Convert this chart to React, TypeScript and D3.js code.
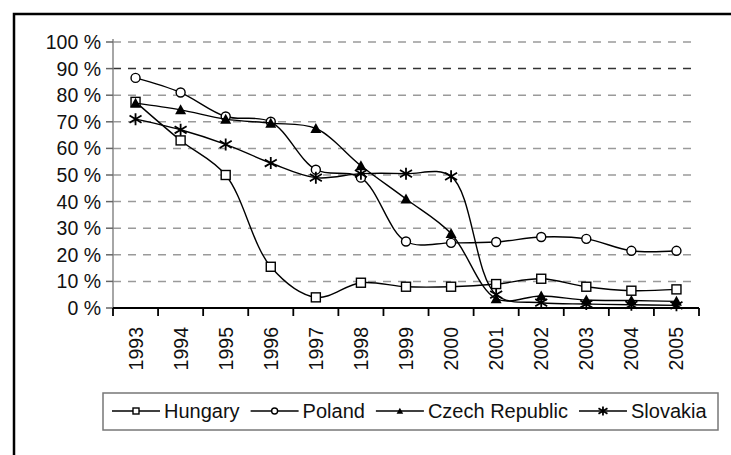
import React, { useEffect, useRef } from "react";
import * as d3 from "d3";

const years = ["1993", "1994", "1995", "1996", "1997", "1998", "1999", "2000", "2001", "2002", "2003", "2004", "2005"];
const hungary = [77.5, 63, 50, 15.5, 4, 9.5, 8, 8, 9, 11, 8, 6.5, 7];
const poland = [86.5, 81, 72, 70, 52, 49, 25, 24.5, 24.8, 26.7, 26, 21.5, 21.5];
const czech = [77, 74.5, 71, 69.5, 67.5, 53.5, 41, 28, 3.5, 4.5, 3, 2.8, 2.5];
const slovakia = [71, 67, 61.5, 54.5, 49, 50.5, 50.5, 49.5, 5, 2, 1.5, 1.2, 1];
const yTicks = [0, 10, 20, 30, 40, 50, 60, 70, 80, 90, 100];

const seriesNames = ["Hungary", "Poland", "Czech Republic", "Slovakia"];
const seriesValues = [hungary, poland, czech, slovakia];
const markerTypes = ["square", "circle", "triangle", "star"];

const App = () => {
  const svgRef = useRef<SVGSVGElement>(null);

  useEffect(() => {
    const svg = d3.select(svgRef.current);
    svg.selectAll("*").remove();

    const left = 113;
    const right = 699;
    const top = 42;
    const bottom = 308;
    const font = "'Liberation Sans', Arial, sans-serif";

    const x = d3.scaleBand().domain(years).range([left, right]);
    const y = d3.scaleLinear().domain([0, 100]).range([bottom, top]);
    const cx = (i) => x(years[i]) + x.bandwidth() / 2;

    // outer frame (cropped on right/bottom)
    svg
      .append("rect")
      .attr("x", 14)
      .attr("y", 14)
      .attr("width", 900)
      .attr("height", 600)
      .attr("fill", "none")
      .attr("stroke", "#000")
      .attr("stroke-width", 2.5);

    // gridlines
    svg
      .append("g")
      .selectAll("line")
      .data(yTicks.filter((d) => d > 0))
      .join("line")
      .attr("x1", left)
      .attr("x2", 697)
      .attr("y1", (d) => y(d))
      .attr("y2", (d) => y(d))
      .attr("stroke", (d) => (d === 90 ? "#333" : "#9a9a9a"))
      .attr("stroke-width", 1.5)
      .attr("stroke-dasharray", "8,7");

    // y axis
    svg
      .append("line")
      .attr("x1", left)
      .attr("x2", left)
      .attr("y1", top - 3)
      .attr("y2", bottom)
      .attr("stroke", "#888")
      .attr("stroke-width", 1.5);
    const yAxis = svg.append("g");
    yAxis
      .selectAll("line")
      .data(yTicks)
      .join("line")
      .attr("x1", left - 7)
      .attr("x2", left)
      .attr("y1", (d) => y(d))
      .attr("y2", (d) => y(d))
      .attr("stroke", "#666")
      .attr("stroke-width", 1.5);
    yAxis
      .selectAll("text")
      .data(yTicks)
      .join("text")
      .attr("x", 101)
      .attr("y", (d) => y(d))
      .attr("dy", "0.36em")
      .attr("text-anchor", "end")
      .attr("font-family", font)
      .attr("font-size", 19.5)
      .attr("fill", "#111")
      .text((d) => `${d} %`);

    // x axis
    svg
      .append("line")
      .attr("x1", left)
      .attr("x2", right)
      .attr("y1", bottom)
      .attr("y2", bottom)
      .attr("stroke", "#000")
      .attr("stroke-width", 2);
    const xAxis = svg.append("g");
    xAxis
      .selectAll("line")
      .data([...years.map((d) => x(d)), right])
      .join("line")
      .attr("x1", (d) => d)
      .attr("x2", (d) => d)
      .attr("y1", bottom)
      .attr("y2", bottom + 8)
      .attr("stroke", "#000")
      .attr("stroke-width", 1.8);
    xAxis
      .selectAll("text")
      .data(years)
      .join("text")
      .attr("transform", (d) => `translate(${x(d) + x.bandwidth() / 2},327) rotate(-90)`)
      .attr("dy", "0.36em")
      .attr("text-anchor", "end")
      .attr("font-family", font)
      .attr("font-size", 19.5)
      .attr("fill", "#111")
      .text((d) => d);

    const drawMarker = (g, type, px, py, s) => {
      if (type === "square") {
        g.append("rect")
          .attr("x", px - s / 2)
          .attr("y", py - s / 2)
          .attr("width", s)
          .attr("height", s)
          .attr("fill", "#fff")
          .attr("stroke", "#000")
          .attr("stroke-width", 1.4);
      } else if (type === "circle") {
        g.append("circle")
          .attr("cx", px)
          .attr("cy", py)
          .attr("r", s / 2)
          .attr("fill", "#fff")
          .attr("stroke", "#000")
          .attr("stroke-width", 1.4);
      } else if (type === "triangle") {
        g.append("path")
          .attr("d", `M${px},${py - s * 0.55}L${px + s * 0.55},${py + s * 0.45}L${px - s * 0.55},${py + s * 0.45}Z`)
          .attr("fill", "#000");
      } else {
        const r = s / 2;
        g.append("path")
          .attr(
            "d",
            `M${px},${py - r}L${px},${py + r}M${px - r},${py - r * 0.6}L${px + r},${py + r * 0.6}M${px - r},${py + r * 0.6}L${px + r},${py - r * 0.6}`
          )
          .attr("stroke", "#000")
          .attr("stroke-width", 1.8)
          .attr("fill", "none");
      }
    };

    const line = d3
      .line<number>()
      .x((d, i) => cx(i))
      .y((d) => y(d))
      .curve(d3.curveCatmullRom.alpha(0.5));

    const markerSize = { square: 9, circle: 9, triangle: 10, star: 12 };

    seriesValues.forEach((vals, si) => {
      const g = svg.append("g");
      g.append("path")
        .datum(vals)
        .attr("d", line)
        .attr("fill", "none")
        .attr("stroke", "#000")
        .attr("stroke-width", 1.4);
      vals.forEach((v, i) => drawMarker(g, markerTypes[si], cx(i), y(v), markerSize[markerTypes[si]]));
    });

    // legend
    const legend = svg.append("g");
    legend
      .append("rect")
      .attr("x", 103)
      .attr("y", 393)
      .attr("width", 615)
      .attr("height", 37)
      .attr("fill", "#fff")
      .attr("stroke", "#777")
      .attr("stroke-width", 1.5);
    let lx = 112;
    const ly = 411;
    seriesNames.forEach((name, si) => {
      const item = legend.append("g");
      item
        .append("line")
        .attr("x1", lx)
        .attr("x2", lx + 48)
        .attr("y1", ly)
        .attr("y2", ly)
        .attr("stroke", "#000")
        .attr("stroke-width", 1.4);
      drawMarker(item, markerTypes[si], lx + 24, ly, markerTypes[si] === "star" ? 9 : 6);
      const t = item
        .append("text")
        .attr("x", lx + 52)
        .attr("y", ly)
        .attr("dy", "0.36em")
        .attr("font-family", font)
        .attr("font-size", 20)
        .attr("fill", "#111")
        .text(name);
      const w = (t.node() as SVGTextElement).getComputedTextLength();
      lx += 52 + w + 11;
    });
  }, []);

  return <svg ref={svgRef} width={731} height={455} style={{ position: "absolute", left: 0, top: 0 }}></svg>;
};

export default App;
